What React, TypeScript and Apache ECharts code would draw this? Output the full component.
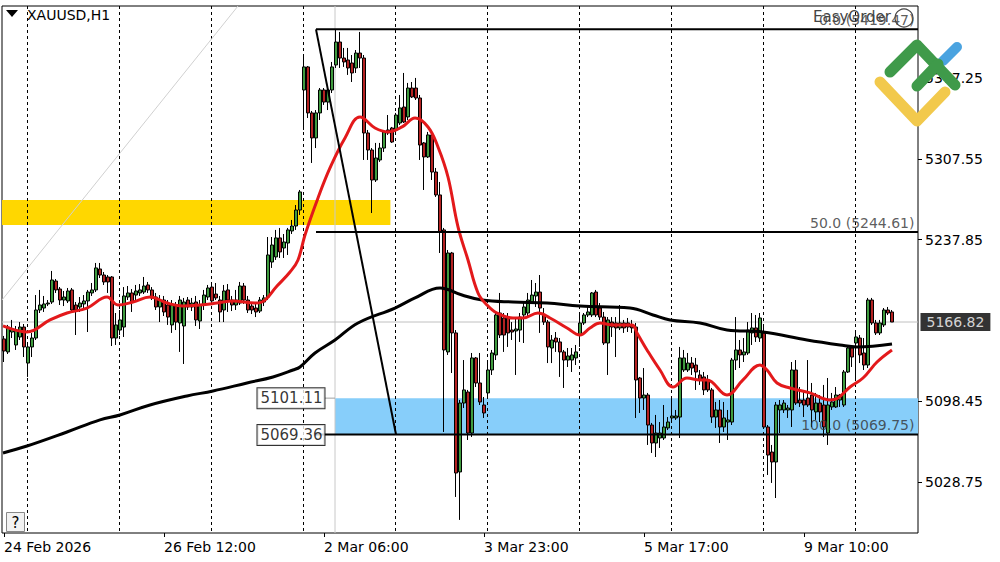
import React, { useEffect, useRef } from "react";
import * as echarts from "echarts";

const FONT = '"DejaVu Sans", Verdana, sans-serif';
const N_SLOTS = 229;
const Y_MIN = 4984.7;
const Y_MAX = 5439.6;

// H1 candles: [open, high, low, close]
const candles: number[][] = [
  [5152.2, 5154.8, 5132.3, 5141.8], // 0
  [5141.0, 5164.3, 5139.2, 5162.5],
  [5158.2, 5168.6, 5153.0, 5160.8],
  [5147.0, 5163.4, 5142.7, 5159.9],
  [5153.9, 5166.8, 5151.3, 5162.5],
  [5162.5, 5165.1, 5136.6, 5145.3],
  [5131.4, 5147.0, 5119.4, 5145.3],
  [5145.3, 5157.4, 5136.6, 5153.0],
  [5153.0, 5190.1, 5151.3, 5177.2],
  [5177.2, 5194.5, 5174.6, 5181.5],
  [5178.9, 5189.3, 5175.5, 5182.4], // 10
  [5182.4, 5185.8, 5180.6, 5183.2],
  [5184.1, 5210.9, 5182.4, 5203.1],
  [5202.2, 5203.9, 5191.9, 5194.5],
  [5195.3, 5197.0, 5181.5, 5185.8],
  [5185.8, 5193.6, 5180.6, 5188.4],
  [5185.0, 5196.2, 5183.2, 5193.6],
  [5194.5, 5196.2, 5175.5, 5177.2],
  [5181.5, 5184.1, 5155.6, 5177.2],
  [5179.8, 5188.4, 5175.5, 5183.2],
  [5182.4, 5190.1, 5177.2, 5185.0], // 20
  [5185.0, 5194.5, 5158.2, 5192.7],
  [5191.9, 5200.5, 5189.3, 5194.5],
  [5194.5, 5217.8, 5192.7, 5213.5],
  [5212.6, 5217.8, 5204.8, 5207.4],
  [5207.4, 5210.0, 5198.8, 5201.4],
  [5205.7, 5207.4, 5191.9, 5201.4],
  [5205.7, 5206.5, 5146.1, 5153.0],
  [5153.0, 5174.6, 5147.0, 5164.3],
  [5159.9, 5177.2, 5155.6, 5168.6],
  [5162.5, 5197.0, 5153.9, 5189.3], // 30
  [5188.4, 5197.9, 5185.8, 5191.9],
  [5191.9, 5195.3, 5175.5, 5184.1],
  [5190.1, 5198.8, 5185.8, 5193.6],
  [5191.9, 5199.6, 5189.3, 5194.5],
  [5192.7, 5205.7, 5191.0, 5197.9],
  [5198.8, 5201.4, 5191.9, 5194.5],
  [5194.5, 5197.0, 5185.8, 5187.6],
  [5188.4, 5191.9, 5177.2, 5179.8],
  [5179.8, 5190.1, 5166.8, 5185.8],
  [5185.8, 5189.3, 5172.0, 5175.5], // 40
  [5181.5, 5185.8, 5164.3, 5171.1],
  [5164.3, 5185.8, 5157.4, 5181.5],
  [5180.6, 5184.1, 5159.9, 5166.8],
  [5166.0, 5189.3, 5141.0, 5185.8],
  [5163.4, 5187.6, 5130.6, 5184.1],
  [5185.8, 5188.4, 5177.2, 5179.8],
  [5179.8, 5187.6, 5176.3, 5183.2],
  [5184.1, 5189.3, 5163.4, 5168.6],
  [5167.7, 5185.8, 5160.8, 5181.5],
  [5181.5, 5194.5, 5177.2, 5190.1], // 50
  [5188.4, 5198.8, 5185.8, 5196.2],
  [5197.0, 5199.6, 5181.5, 5185.0],
  [5191.0, 5200.5, 5185.8, 5187.6],
  [5185.8, 5189.3, 5166.8, 5175.5],
  [5177.2, 5198.8, 5166.8, 5193.6],
  [5194.5, 5199.6, 5175.5, 5185.8],
  [5185.8, 5189.3, 5176.3, 5181.5],
  [5181.5, 5194.5, 5177.2, 5185.8],
  [5183.2, 5201.4, 5181.5, 5197.9],
  [5197.9, 5200.5, 5182.4, 5185.8], // 60
  [5185.8, 5189.3, 5174.6, 5177.2],
  [5180.6, 5184.1, 5173.7, 5177.2],
  [5178.9, 5183.2, 5171.1, 5175.5],
  [5176.3, 5188.4, 5174.6, 5185.8],
  [5184.1, 5190.1, 5180.6, 5187.6],
  [5188.4, 5240.2, 5185.8, 5224.7],
  [5218.6, 5240.2, 5213.5, 5233.3],
  [5223.0, 5246.3, 5220.4, 5239.4],
  [5239.4, 5248.0, 5222.1, 5227.3],
  [5230.7, 5242.8, 5222.1, 5235.9], // 70
  [5235.0, 5248.0, 5224.7, 5246.3],
  [5245.4, 5254.9, 5242.8, 5249.7],
  [5249.7, 5267.8, 5246.3, 5263.5],
  [5263.5, 5280.8, 5259.2, 5279.1],
  [5367.1, 5395.6, 5332.6, 5387.0],
  [5387.0, 5387.8, 5342.9, 5347.3],
  [5347.3, 5349.0, 5304.1, 5325.7],
  [5325.7, 5349.8, 5317.0, 5347.3],
  [5347.3, 5368.8, 5341.2, 5367.1],
  [5367.1, 5368.8, 5354.2, 5356.7], // 80
  [5356.7, 5368.8, 5349.8, 5367.1],
  [5367.1, 5391.3, 5364.5, 5387.0],
  [5388.7, 5418.9, 5386.1, 5408.5],
  [5408.5, 5417.2, 5386.1, 5394.7],
  [5394.7, 5403.4, 5387.0, 5391.3],
  [5393.0, 5403.4, 5380.1, 5386.1],
  [5390.4, 5397.3, 5374.0, 5381.8],
  [5386.1, 5401.6, 5381.8, 5399.0],
  [5399.0, 5417.2, 5386.1, 5394.7],
  [5394.7, 5397.3, 5306.7, 5330.0], // 90
  [5330.0, 5332.6, 5306.7, 5315.3],
  [5315.3, 5317.0, 5260.9, 5289.4],
  [5289.4, 5321.4, 5287.7, 5308.4],
  [5306.7, 5321.4, 5305.0, 5317.0],
  [5317.0, 5331.7, 5313.6, 5330.9],
  [5332.6, 5345.5, 5328.3, 5330.0],
  [5334.3, 5335.2, 5321.4, 5322.2],
  [5332.6, 5347.3, 5330.9, 5345.5],
  [5338.6, 5362.8, 5336.9, 5351.6],
  [5352.4, 5381.8, 5338.6, 5339.5], // 100
  [5343.8, 5373.2, 5341.2, 5368.8],
  [5368.8, 5374.0, 5360.2, 5361.1],
  [5368.8, 5377.5, 5358.5, 5360.2],
  [5360.2, 5362.8, 5306.7, 5319.6],
  [5321.4, 5322.2, 5280.8, 5309.3],
  [5309.3, 5330.9, 5308.4, 5328.3],
  [5328.3, 5332.6, 5289.4, 5296.3],
  [5296.3, 5299.8, 5274.8, 5276.5],
  [5276.5, 5287.7, 5226.4, 5244.5],
  [5246.3, 5248.0, 5071.9, 5142.7], // 110
  [5141.0, 5229.0, 5138.4, 5226.4],
  [5226.4, 5227.3, 5122.8, 5157.4],
  [5157.4, 5159.9, 5015.8, 5036.5],
  [5037.4, 5099.5, 4996.0, 5096.9],
  [5096.9, 5134.0, 5092.6, 5108.2],
  [5106.4, 5108.2, 5065.0, 5071.0],
  [5071.0, 5140.1, 5067.6, 5135.8],
  [5135.8, 5136.6, 5110.7, 5114.2],
  [5114.2, 5140.1, 5095.2, 5097.8],
  [5095.2, 5102.1, 5084.0, 5088.3], // 120
  [5105.6, 5134.0, 5102.1, 5125.4],
  [5125.4, 5142.7, 5121.1, 5140.1],
  [5138.4, 5175.5, 5134.0, 5172.9],
  [5174.6, 5191.9, 5153.0, 5155.6],
  [5170.3, 5174.6, 5141.0, 5155.6],
  [5170.3, 5174.6, 5145.3, 5157.4],
  [5159.9, 5166.8, 5151.3, 5158.2],
  [5159.1, 5171.1, 5121.1, 5160.8],
  [5159.9, 5174.6, 5149.6, 5171.1],
  [5172.9, 5183.2, 5148.7, 5179.8], // 130
  [5174.6, 5191.9, 5171.1, 5185.8],
  [5184.1, 5203.1, 5183.2, 5190.1],
  [5189.3, 5200.5, 5179.8, 5192.7],
  [5192.7, 5207.4, 5157.4, 5178.9],
  [5172.9, 5178.9, 5164.3, 5166.8],
  [5166.8, 5168.6, 5131.4, 5145.3],
  [5144.4, 5155.6, 5131.4, 5151.3],
  [5153.0, 5158.2, 5141.0, 5149.6],
  [5149.6, 5153.0, 5119.4, 5141.0],
  [5141.0, 5142.7, 5109.9, 5134.0], // 140
  [5134.0, 5144.4, 5128.0, 5137.5],
  [5134.0, 5144.4, 5123.7, 5138.4],
  [5135.8, 5147.0, 5129.7, 5141.0],
  [5155.6, 5174.6, 5145.3, 5166.0],
  [5166.0, 5174.6, 5164.3, 5172.9],
  [5172.9, 5179.8, 5171.1, 5175.5],
  [5172.9, 5192.7, 5171.1, 5191.9],
  [5192.7, 5194.5, 5171.1, 5172.9],
  [5178.9, 5183.2, 5168.6, 5171.1],
  [5171.1, 5175.5, 5147.0, 5148.7], // 150
  [5148.7, 5171.1, 5121.1, 5168.6],
  [5166.8, 5171.1, 5153.9, 5162.5],
  [5166.0, 5171.1, 5136.6, 5161.7],
  [5161.7, 5181.5, 5159.9, 5166.0],
  [5166.0, 5168.6, 5157.4, 5161.7],
  [5166.0, 5170.3, 5158.2, 5162.5],
  [5164.3, 5168.6, 5157.4, 5161.7],
  [5162.5, 5166.0, 5084.0, 5116.8],
  [5118.5, 5119.4, 5088.3, 5101.2],
  [5101.2, 5127.1, 5090.9, 5103.8], // 160
  [5103.8, 5105.6, 5060.7, 5077.9],
  [5077.9, 5079.7, 5053.8, 5062.4],
  [5062.4, 5086.6, 5050.3, 5071.0],
  [5066.7, 5080.5, 5058.1, 5071.0],
  [5066.7, 5095.2, 5065.0, 5076.2],
  [5075.4, 5084.8, 5073.6, 5080.5],
  [5084.0, 5101.2, 5080.5, 5085.7],
  [5084.0, 5090.9, 5082.3, 5085.7],
  [5084.8, 5145.3, 5066.7, 5135.8],
  [5125.4, 5142.7, 5123.7, 5135.8], // 170
  [5125.4, 5140.1, 5123.7, 5131.4],
  [5131.4, 5136.6, 5121.1, 5127.1],
  [5129.7, 5135.8, 5108.2, 5123.7],
  [5121.1, 5125.4, 5112.5, 5116.8],
  [5119.4, 5123.7, 5103.8, 5108.2],
  [5116.8, 5121.1, 5106.4, 5108.2],
  [5108.2, 5109.9, 5079.7, 5084.8],
  [5084.8, 5097.8, 5075.4, 5090.9],
  [5090.9, 5099.5, 5062.4, 5076.2],
  [5076.2, 5097.8, 5071.9, 5084.0], // 180
  [5080.5, 5090.9, 5065.0, 5082.3],
  [5080.5, 5135.8, 5077.9, 5134.0],
  [5134.0, 5171.1, 5125.4, 5142.7],
  [5142.7, 5151.3, 5127.1, 5138.4],
  [5138.4, 5153.0, 5132.3, 5141.0],
  [5140.1, 5166.8, 5138.4, 5159.9],
  [5157.4, 5174.6, 5147.0, 5161.7],
  [5161.7, 5172.9, 5149.6, 5153.9],
  [5153.0, 5174.6, 5149.6, 5170.3],
  [5157.4, 5162.5, 5075.4, 5076.2], // 190
  [5076.2, 5077.9, 5034.8, 5052.0],
  [5054.6, 5060.7, 5027.9, 5046.0],
  [5046.0, 5097.8, 5014.9, 5095.2],
  [5090.9, 5099.5, 5071.0, 5095.2],
  [5090.9, 5099.5, 5088.3, 5096.9],
  [5090.9, 5095.2, 5084.0, 5092.6],
  [5090.9, 5132.3, 5076.2, 5125.4],
  [5125.4, 5134.0, 5095.2, 5096.9],
  [5099.5, 5110.7, 5093.5, 5096.9],
  [5099.5, 5106.4, 5084.8, 5095.2], // 200
  [5101.2, 5134.0, 5093.5, 5095.2],
  [5103.8, 5114.2, 5076.2, 5090.9],
  [5089.2, 5105.6, 5082.3, 5096.9],
  [5096.9, 5103.8, 5080.5, 5089.2],
  [5095.2, 5112.5, 5067.6, 5076.2],
  [5071.0, 5118.5, 5060.7, 5095.2],
  [5093.5, 5105.6, 5090.9, 5097.8],
  [5093.5, 5110.7, 5092.6, 5103.8],
  [5099.5, 5104.7, 5093.5, 5103.8],
  [5095.2, 5125.4, 5093.5, 5123.7], // 210
  [5123.7, 5145.3, 5122.8, 5144.4],
  [5144.4, 5147.0, 5128.0, 5136.6],
  [5148.7, 5157.4, 5116.8, 5153.9],
  [5153.0, 5155.6, 5131.4, 5138.4],
  [5140.1, 5153.0, 5125.4, 5129.7],
  [5129.7, 5187.6, 5127.1, 5185.8],
  [5185.8, 5187.6, 5164.3, 5166.0],
  [5166.0, 5168.6, 5155.6, 5157.4],
  [5157.4, 5168.6, 5155.6, 5166.0],
  [5164.3, 5178.9, 5162.5, 5177.2], // 220
  [5177.2, 5179.8, 5172.9, 5174.6],
  [5175.5, 5177.2, 5166.8, 5166.82],
];

// moving averages: [bar position, price]
const redMA: number[][] = [
  [-0.25, 5163.4], [5.75, 5158.2], [11.5, 5168.6], [15.75, 5174.6], [20.75, 5178.9],
  [25.75, 5188.4], [28.5, 5181.5], [32.25, 5184.1], [36.5, 5188.4], [40.75, 5183.2],
  [44.75, 5180.6], [49, 5181.5], [53.25, 5183.2], [57.25, 5185.0], [62.75, 5183.2],
  [64.5, 5184.1], [68.25, 5197.9], [71.5, 5210.0], [73.5, 5220.4], [75.25, 5242.0],
  [78.5, 5273.9], [81.5, 5299.8], [85.25, 5325.7], [89, 5343.8], [92.75, 5334.3],
  [96, 5330.9], [99.5, 5335.2], [102.75, 5342.9], [106, 5335.2], [108.5, 5317.9],
  [111, 5292.0], [113.5, 5248.9], [116, 5220.4], [118.5, 5191.9], [120.75, 5181.5],
  [123.25, 5174.6], [127.25, 5170.3], [129.75, 5170.3], [133.5, 5174.6], [136.5, 5170.3],
  [140.75, 5161.7], [144, 5155.6], [146.5, 5161.7], [149, 5166.0], [152.25, 5164.3],
  [157, 5164.3], [158.25, 5157.4], [160.75, 5142.7], [164, 5125.4], [167.25, 5110.7],
  [170.75, 5118.5], [174, 5116.8], [175.75, 5116.8], [180.75, 5103.8], [184.75, 5116.8],
  [189, 5129.7], [190.75, 5125.4], [193.25, 5114.2], [196.5, 5109.9], [201.5, 5105.6],
  [206.5, 5099.5], [208.5, 5101.2], [211.5, 5110.7], [214.75, 5118.5], [218.25, 5132.3],
  [222, 5142.7],
];
const blackMA: number[][] = [
  [-0.25, 5053.8], [5.75, 5059.8], [15.75, 5071.9], [24, 5082.3], [29, 5086.6],
  [36.5, 5095.2], [45.75, 5103.0], [52.25, 5107.3], [60.75, 5114.2], [67.25, 5119.4],
  [72.25, 5125.4], [74, 5128.0], [77.75, 5140.1], [82.75, 5151.3], [88.5, 5166.0],
  [97.75, 5178.9], [102.75, 5187.6], [109, 5196.2], [114.5, 5190.1], [119.5, 5185.8],
  [127.25, 5184.1], [135.75, 5183.2], [144, 5180.6], [156.5, 5178.9], [162.25, 5172.9],
  [166.5, 5168.6], [174, 5166.0], [180.75, 5159.9], [189.75, 5158.2], [200.75, 5151.3],
  [209, 5147.0], [213.25, 5145.3], [222, 5147.9],
];

// axes
const yTicks = [5028.75, 5098.45, 5237.85, 5307.55, 5377.25];
const timeTicks = [0, 40, 80, 120, 160, 200];
const timeLabels = ["24 Feb 2026", "26 Feb 12:00", "2 Mar 06:00", "3 Mar 23:00", "5 Mar 17:00", "9 Mar 10:00"];
const daySeparators = [6, 29, 52, 75, 98, 121, 144, 167, 190, 213];

// drawings
const fibLevels = [0, 50, 100];
const fibPrices = [5419.47, 5244.61, 5069.75];
const fibAnchors = [[78, 5419.47], [98, 5069.75]];
const yellowZone = [-0.5, 96.6, 5250.6, 5272.2];
const blueZone = [82.75, 228.5, 5069.36, 5101.11];
const boxLevels = [5101.11, 5069.36];
const grayTrend = [[-0.5, 5185.8], [58.5, 5439.6]];
const grayVLine = 82.75;
const lastPrice = 5166.82;

const GREEN = "#3f9b3f";
const RED = "#b42222";
const MA_RED = "#e3191b";
const CLEAR = "rgba(0,0,0,0)";

export default function App() {
  const ref = useRef<HTMLDivElement>(null);

  useEffect(() => {
    document.body.style.margin = "0";
    const chart = echarts.init(ref.current as HTMLDivElement, undefined, { renderer: "svg", width: 1000, height: 562 });
    const slots = Array.from({ length: N_SLOTS }, (_, i) => String(i));
    const right = N_SLOTS - 0.5;

    const lineSeries = (data: number[][], color: string, width: number, z: number, smooth: boolean | number = false) => ({
      type: "line",
      xAxisIndex: 1,
      yAxisIndex: 0,
      data,
      smooth,
      symbol: "none",
      showSymbol: false,
      silent: true,
      z,
      lineStyle: { color, width },
    });

    const option: any = {
      animation: false,
      backgroundColor: "#ffffff",
      grid: {
        left: 2, right: 82, top: 6, bottom: 29,
        show: true, borderColor: "#000", borderWidth: 1, backgroundColor: "#fff",
      },
      xAxis: [
        {
          type: "category",
          data: slots,
          boundaryGap: true,
          axisLine: { show: false, onZero: false },
          splitLine: { show: false },
          axisTick: {
            show: true, alignWithLabel: true, length: 4,
            interval: (i: number) => timeTicks.includes(i),
            lineStyle: { color: "#000" },
          },
          axisLabel: {
            interval: (i: number) => timeTicks.includes(i),
            formatter: (_v: string, i: number) => {
              const k = timeTicks.indexOf(i);
              return k >= 0 ? timeLabels[k] : "";
            },
            align: "left", margin: 7, color: "#000", fontSize: 14, fontFamily: FONT,
          },
        },
        { type: "value", min: -0.5, max: right, show: false, axisLine: { onZero: false } },
      ],
      yAxis: [
        {
          type: "value",
          position: "right",
          min: Y_MIN, max: Y_MAX,
          splitLine: { show: false },
          axisLine: { show: false, onZero: false },
          axisTick: { show: true, length: 4, customValues: yTicks, lineStyle: { color: "#000" } },
          axisLabel: {
            customValues: yTicks,
            formatter: (v: number) => v.toFixed(2),
            color: "#000", fontSize: 14, fontFamily: FONT, margin: 7,
          },
        },
      ],
      series: [
        {
          type: "custom",
          xAxisIndex: 1, yAxisIndex: 0, z: 1, silent: true,
          data: [
            [...yellowZone, 0],
            [...blueZone, 1],
          ],
          encode: { x: [0, 1], y: [2, 3] },
          renderItem: (_p: any, api: any) => {
            const a = api.coord([api.value(0), api.value(3)]);
            const b = api.coord([api.value(1), api.value(2)]);
            return {
              type: "rect",
              shape: { x: a[0], y: a[1], width: b[0] - a[0], height: b[1] - a[1] },
              style: { fill: api.value(4) === 0 ? "#ffd700" : "#87cefa" },
            };
          },
        },
        {
          type: "custom",
          xAxisIndex: 1, yAxisIndex: 0, z: 2, silent: true,
          data: daySeparators.map((i) => [i - 0.25, Y_MIN]),
          encode: { x: 0, y: 1 },
          renderItem: (_p: any, api: any) => {
            const t = api.coord([api.value(0), Y_MAX]);
            const b = api.coord([api.value(0), Y_MIN]);
            const x = Math.round(t[0]) + 0.5;
            return {
              type: "line",
              shape: { x1: x, y1: t[1], x2: x, y2: b[1] },
              style: { stroke: "#000", lineWidth: 1, lineDash: [3, 3] },
            };
          },
        },
        lineSeries(grayTrend, "#d0d0d0", 1, 2),
        lineSeries([[grayVLine, Y_MIN], [grayVLine, Y_MAX]], "#c8c8c8", 1, 2),
        lineSeries([[-0.5, lastPrice], [right, lastPrice]], "#c0c0c0", 1, 2),
        lineSeries([[grayVLine - 2.5, boxLevels[0]], [grayVLine, boxLevels[0]]], "#a0a0a0", 1, 2),
        {
          type: "candlestick",
          xAxisIndex: 0, yAxisIndex: 0, z: 3, silent: true,
          barWidth: 3,
          data: candles.map(([o, h, l, c]) => [o, c, l, h]),
          itemStyle: {
            color: GREEN, color0: RED,
            borderColor: "#000", borderColor0: "#000", borderColorDoji: "#000",
            borderWidth: 1,
          },
        },
        lineSeries(blackMA, "#000", 3, 4, 0.4),
        lineSeries(redMA, MA_RED, 3, 4, 0.4),
        ...fibPrices.map((p) => lineSeries([[fibAnchors[0][0], p], [right, p]], "#000", 2, 5)),
        lineSeries(fibAnchors, "#000", 2, 5),
        {
          type: "scatter",
          xAxisIndex: 1, yAxisIndex: 0, z: 6, silent: true, clip: false,
          symbolSize: 1,
          itemStyle: { color: CLEAR },
          data: fibPrices.map((p, k) => ({
            value: [228, p],
            label: { formatter: `${fibLevels[k].toFixed(1)} (${p.toFixed(2)})` },
          })),
          label: {
            show: true, position: "left", distance: 1, offset: [0, -9],
            color: "#333", fontSize: 14, fontFamily: FONT,
          },
        },
        {
          type: "scatter",
          xAxisIndex: 1, yAxisIndex: 0, z: 6, silent: true, clip: false,
          symbolSize: 1,
          itemStyle: { color: CLEAR },
          data: boxLevels.map((p) => [grayVLine, p]),
          label: {
            show: true, position: "left", distance: 10,
            formatter: (d: any) => d.value[1].toFixed(2),
            color: "#000", fontSize: 15, fontFamily: FONT,
            backgroundColor: "#fff", borderColor: "#000", borderWidth: 1,
            padding: [3, 2, 2, 3],
          },
        },
        {
          type: "scatter",
          xAxisIndex: 1, yAxisIndex: 0, z: 6, silent: true, clip: false,
          symbolSize: 1,
          itemStyle: { color: CLEAR },
          data: [[right, lastPrice]],
          label: {
            show: true, position: "right", distance: 2,
            formatter: (d: any) => d.value[1].toFixed(2),
            color: "#fff", fontSize: 14, fontFamily: FONT,
            backgroundColor: "#000", padding: [2, 6, 2, 6],
          },
        },
      ],
      graphic: [
        { type: "polygon", z: 100, shape: { points: [[6, 10], [18, 10], [12, 17]] }, style: { fill: "#000" } },
        { type: "text", z: 100, x: 27, y: 15, style: { text: "XAUUSD,H1", fill: "#000", fontSize: 14, fontFamily: FONT, verticalAlign: "middle" } },
        { type: "text", z: 90, x: 813, y: 17, style: { text: "EasyOrder", fill: "#444", fontSize: 15, fontFamily: FONT, verticalAlign: "middle" } },
        { type: "circle", z: 90, shape: { cx: 904, cy: 18, r: 9 }, style: { fill: "none", stroke: "#444", lineWidth: 1.2 } },
        { type: "polyline", z: 100, shape: { points: [[880, 82], [917, 121], [945, 92]] }, style: { stroke: "#f2c94c", lineWidth: 11, lineCap: "round", lineJoin: "round", fill: "none" } },
        { type: "polyline", z: 101, shape: { points: [[890, 72], [917, 45], [955, 85]] }, style: { stroke: "#3f9a4a", lineWidth: 11, lineCap: "round", lineJoin: "round", fill: "none" } },
        { type: "polyline", z: 101, shape: { points: [[917, 86], [938, 64]] }, style: { stroke: "#3f9a4a", lineWidth: 11, lineCap: "round", fill: "none" } },
        { type: "polyline", z: 100, shape: { points: [[943, 61], [957, 47]] }, style: { stroke: "#4aa3e0", lineWidth: 10, lineCap: "round", fill: "none" } },
        { type: "rect", z: 100, shape: { x: 6.5, y: 512.5, width: 18, height: 19 }, style: { fill: "#f2f2f2", stroke: "#888", lineWidth: 1 } },
        { type: "text", z: 101, x: 15.5, y: 522.5, style: { text: "?", fill: "#000", fontSize: 15, fontFamily: FONT, align: "center", verticalAlign: "middle" } },
      ],
    };

    chart.setOption(option);
    return () => chart.dispose();
  }, []);

  return <div ref={ref} style={{ width: 1000, height: 562 }} />;
}
